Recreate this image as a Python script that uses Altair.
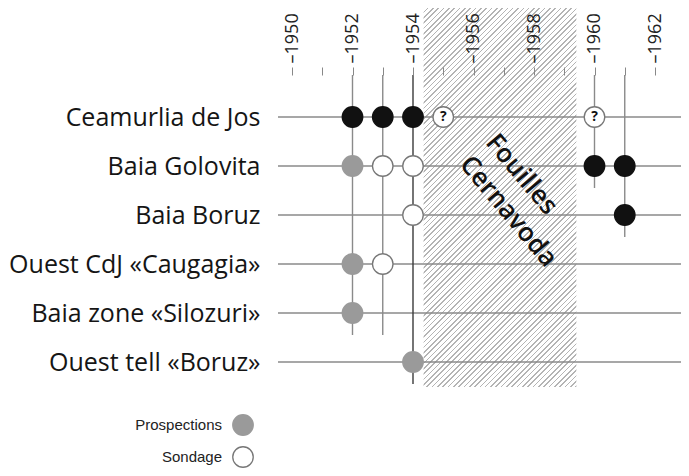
import altair as alt
import pandas as pd

# ---------------- data ----------------
rows = ["Ceamurlia de Jos", "Baia Golovita", "Baia Boruz",
        "Ouest CdJ «Caugagia»", "Baia zone «Silozuri»", "Ouest tell «Boruz»"]

years = list(range(1950, 1963))

pt_row = ["Ceamurlia de Jos", "Ceamurlia de Jos", "Ceamurlia de Jos", "Ceamurlia de Jos", "Ceamurlia de Jos",
          "Baia Golovita", "Baia Golovita", "Baia Golovita", "Baia Golovita", "Baia Golovita",
          "Baia Boruz", "Baia Boruz",
          "Ouest CdJ «Caugagia»", "Ouest CdJ «Caugagia»",
          "Baia zone «Silozuri»",
          "Ouest tell «Boruz»"]
pt_year = [1952, 1953, 1954, 1955, 1960,
           1952, 1953, 1954, 1960, 1961,
           1954, 1961,
           1952, 1953,
           1952,
           1954]
pt_type = ["Fouilles", "Fouilles", "Fouilles", "Incertain", "Incertain",
           "Prospections", "Sondage", "Sondage", "Fouilles", "Fouilles",
           "Sondage", "Fouilles",
           "Prospections", "Sondage",
           "Prospections",
           "Prospections"]

line_year = [1952, 1953, 1954, 1960, 1961]
line_end = ["Baia zone «Silozuri»", "Baia zone «Silozuri»", "Ouest tell «Boruz»",
            "Baia Golovita", "Baia Boruz"]

hatch_start = [1954.35]
hatch_end = [1959.4]
hatch_label = [["Fouilles", "Cernavoda"]]
hatch_label_year = [1956.37]
hatch_label_row = ["Baia Golovita"]

types = ["Fouilles", "Prospections", "Sondage", "Incertain"]
legend_types = ["Prospections", "Sondage"]

# ---------------- tables ----------------
df_rows = pd.DataFrame({"row": rows})
df_pts = pd.DataFrame({"row": pt_row, "year": pt_year, "type": pt_type})
df_lines = pd.DataFrame({"year": line_year, "end": line_end})
df_hatch = pd.DataFrame({"start": hatch_start, "end": hatch_end})
df_label = pd.DataFrame({"year": hatch_label_year, "row": hatch_label_row,
                         "txt": hatch_label})

# ---------------- styling ----------------
W, H = 403, 379
x_scale = alt.Scale(domain=[1950, 1962], range=[14, 377], nice=False, zero=False)
y_scale = alt.Scale(type="point", domain=rows, range=[109, 354], padding=0)

x_axis = alt.Axis(orient="top", offset=-67, values=years,
                  labelExpr="datum.value % 2 == 0 ? '\u2013' + datum.value : ''",
                  labelAngle=-90, labelFontSize=18, labelFont="Open Sans",
                  labelColor="#222", labelPadding=4, tickSize=8, tickColor="#888",
                  tickWidth=1, domain=False, grid=False, zindex=1)
y_axis = alt.Axis(orient="left", ticks=False, domain=False, labelPadding=18,
                  labelFontSize=25, labelFont="Open Sans", labelColor="#151515",
                  labelLimit=400, grid=False)

# hatch gradient (45 degree stripes)
hw = (hatch_end[0] - hatch_start[0]) * (377 - 14) / 12
s = (hw + H) / (hw * hw + H * H)
n = 100
stops = []
for i in range(n):
    a = i / n
    b = (i + 0.70) / n
    c = (i + 1) / n
    stops += [{"offset": a, "color": "#ffffff"}, {"offset": b, "color": "#ffffff"},
              {"offset": b, "color": "#b4b4b4"}, {"offset": c, "color": "#b4b4b4"}]
hatch_fill = {"gradient": "linear", "x1": 0, "y1": 0,
              "x2": round(hw * s, 4), "y2": round(H * s, 4), "stops": stops}

hatch = alt.Chart(df_hatch).mark_rect(fill=hatch_fill).encode(
    x=alt.X("start:Q", scale=x_scale, axis=x_axis, title=None),
    x2="end:Q",
)

hrules = alt.Chart(df_rows).mark_rule(color="#8a8a8a", strokeWidth=1.5).encode(
    y=alt.Y("row:N", scale=y_scale, axis=y_axis, title=None, sort=rows),
)

vrules = alt.Chart(df_lines).mark_rule(strokeWidth=1.4, yOffset=22).encode(
    x=alt.X("year:Q", scale=x_scale, axis=x_axis, title=None),
    y=alt.Y("end:N", scale=y_scale, axis=y_axis, title=None, sort=rows),
    y2=alt.value(67),
    color=alt.condition(alt.datum.year == 1954, alt.value("#3a3a3a"), alt.value("#8a8a8a")),
)

points = alt.Chart(df_pts).mark_point(filled=True, shape="circle", size=420,
                                      strokeWidth=1.3, opacity=1).encode(
    x=alt.X("year:Q", scale=x_scale, axis=x_axis, title=None),
    y=alt.Y("row:N", scale=y_scale, axis=y_axis, title=None, sort=rows),
    fill=alt.Fill("type:N",
                  scale=alt.Scale(domain=types, range=["#111111", "#9a9a9a", "#ffffff", "#ffffff"]),
                  legend=alt.Legend(title=None, values=legend_types, orient="none",
                                    legendX=-46, legendY=406, direction="vertical",
                                    symbolType="circle", symbolSize=420,
                                    symbolStrokeColor="#7a7a7a", symbolStrokeWidth=1.3,
                                    labelAlign="right", labelOffset={"expr": "-32"},
                                    labelFont="Liberation Sans", labelFontSize=15,
                                    labelColor="#222", rowPadding=6, padding=0)),
    stroke=alt.Stroke("type:N",
                      scale=alt.Scale(domain=types, range=["#111111", "#9a9a9a", "#777777", "#777777"]),
                      legend=None),
)

qmarks = alt.Chart(df_pts).transform_filter(alt.datum.type == "Incertain").mark_text(
    text="?", fontSize=14, fontWeight="bold", font="Open Sans", color="#111").encode(
    x=alt.X("year:Q", scale=x_scale, axis=x_axis, title=None),
    y=alt.Y("row:N", scale=y_scale, axis=y_axis, title=None, sort=rows),
)

label = alt.Chart(df_label).mark_text(
    angle=50, align="left", baseline="alphabetic", fontSize=26, fontWeight=600,
    font="Open Sans", color="#111", lineHeight=34, yOffset=-23).encode(
    x=alt.X("year:Q", scale=x_scale, axis=x_axis, title=None),
    y=alt.Y("row:N", scale=y_scale, axis=y_axis, title=None, sort=rows),
    text="txt",
)

chart = alt.layer(hatch, hrules, vrules, points, qmarks, label).properties(
    width=W, height=H,
    background="white",
    autosize=alt.AutoSizeParams(type="none"),
    padding={"left": 270, "top": 0, "right": 0, "bottom": 81},
).configure_view(strokeWidth=0, stroke="transparent")

chart.save("out.html", embed_options={"renderer": "svg", "actions": False})
